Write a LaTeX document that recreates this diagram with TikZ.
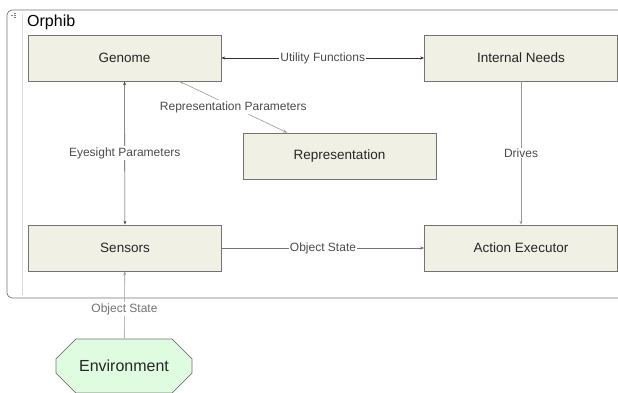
\documentclass[tikz,border=0pt]{standalone}
\usepackage{fontspec}
\setmainfont{Liberation Sans}
\usetikzlibrary{shapes.misc,arrows.meta}

\definecolor{blockFill}{HTML}{F0F0E4}
\definecolor{envFill}{HTML}{E0FCE0}

\begin{document}
\begin{tikzpicture}[x=1pt,y=-1pt,
  block/.style={draw=black!55, line width=0.7pt, fill=blockFill, minimum width=193pt, minimum height=46pt, inner sep=0pt, text=black!85, font=\fontsize{13.5}{16}\selectfont},
  tag/.style={fill=white, inner sep=1pt, text=black!70, font=\fontsize{12}{14}\selectfont},
  tip/.style={line width=0.6pt, {Stealth[length=4pt,width=3pt]}-{Stealth[length=4pt,width=3pt]}},
  oneway/.style={line width=0.6pt, -{Stealth[length=4pt,width=3pt]}}]
\useasboundingbox (0,0) rectangle (618,393);
\clip (0,0) rectangle (618,393);
% frame of the Orphib group
\draw[black!55, line width=0.7pt, rounded corners=5pt] (7,10) rectangle (640,298);
\draw[black!15, line width=0.6pt] (22,14) -- (22,295);
\draw[black!50, line width=0.6pt] (10.5,15) -- (12.5,15);
\foreach \y in {13,15,17} \draw[black!50, line width=0.5pt] (14,\y) -- (16,\y);
\node[anchor=west, inner sep=0pt, font=\fontsize{16}{19}\selectfont] (title) at (27,22) {Orphib};
% blocks
\node[block] (genome) at (124.5,58) {Genome};
\node[block] (needs) at (521,58) {Internal Needs};
\node[block] (repr) at (339.5,156) {Representation};
\node[block] (sensors) at (125,248) {Sensors};
\node[block] (executor) at (521,248) {Action Executor};
\node[chamfered rectangle, chamfered rectangle xsep=36pt, chamfered rectangle ysep=14pt,
  draw=black!55, line width=0.7pt, fill=envFill, minimum width=136pt, minimum height=54pt, inner sep=0pt,
  text=black!85, font=\fontsize{16}{19}\selectfont] (env) at (124,366) {Environment};
% links
\draw[tip, black!80] (genome) -- node[tag] {Utility Functions} (needs);
\draw[tip, black!40] (genome.-23) -- node[tag] {Representation Parameters} (repr.156);
\draw[tip, black!70] (genome) -- node[tag] {Eyesight Parameters} (sensors);
\draw[oneway, black!40] (needs) -- node[tag] {Drives} (executor);
\draw[oneway, black!55] (sensors) -- node[tag] {Object State} (executor);
\draw[oneway, black!40] (env) -- node[tag, pos=0.44, text=black!55] {Object State} (sensors);
\end{tikzpicture}
\end{document}
